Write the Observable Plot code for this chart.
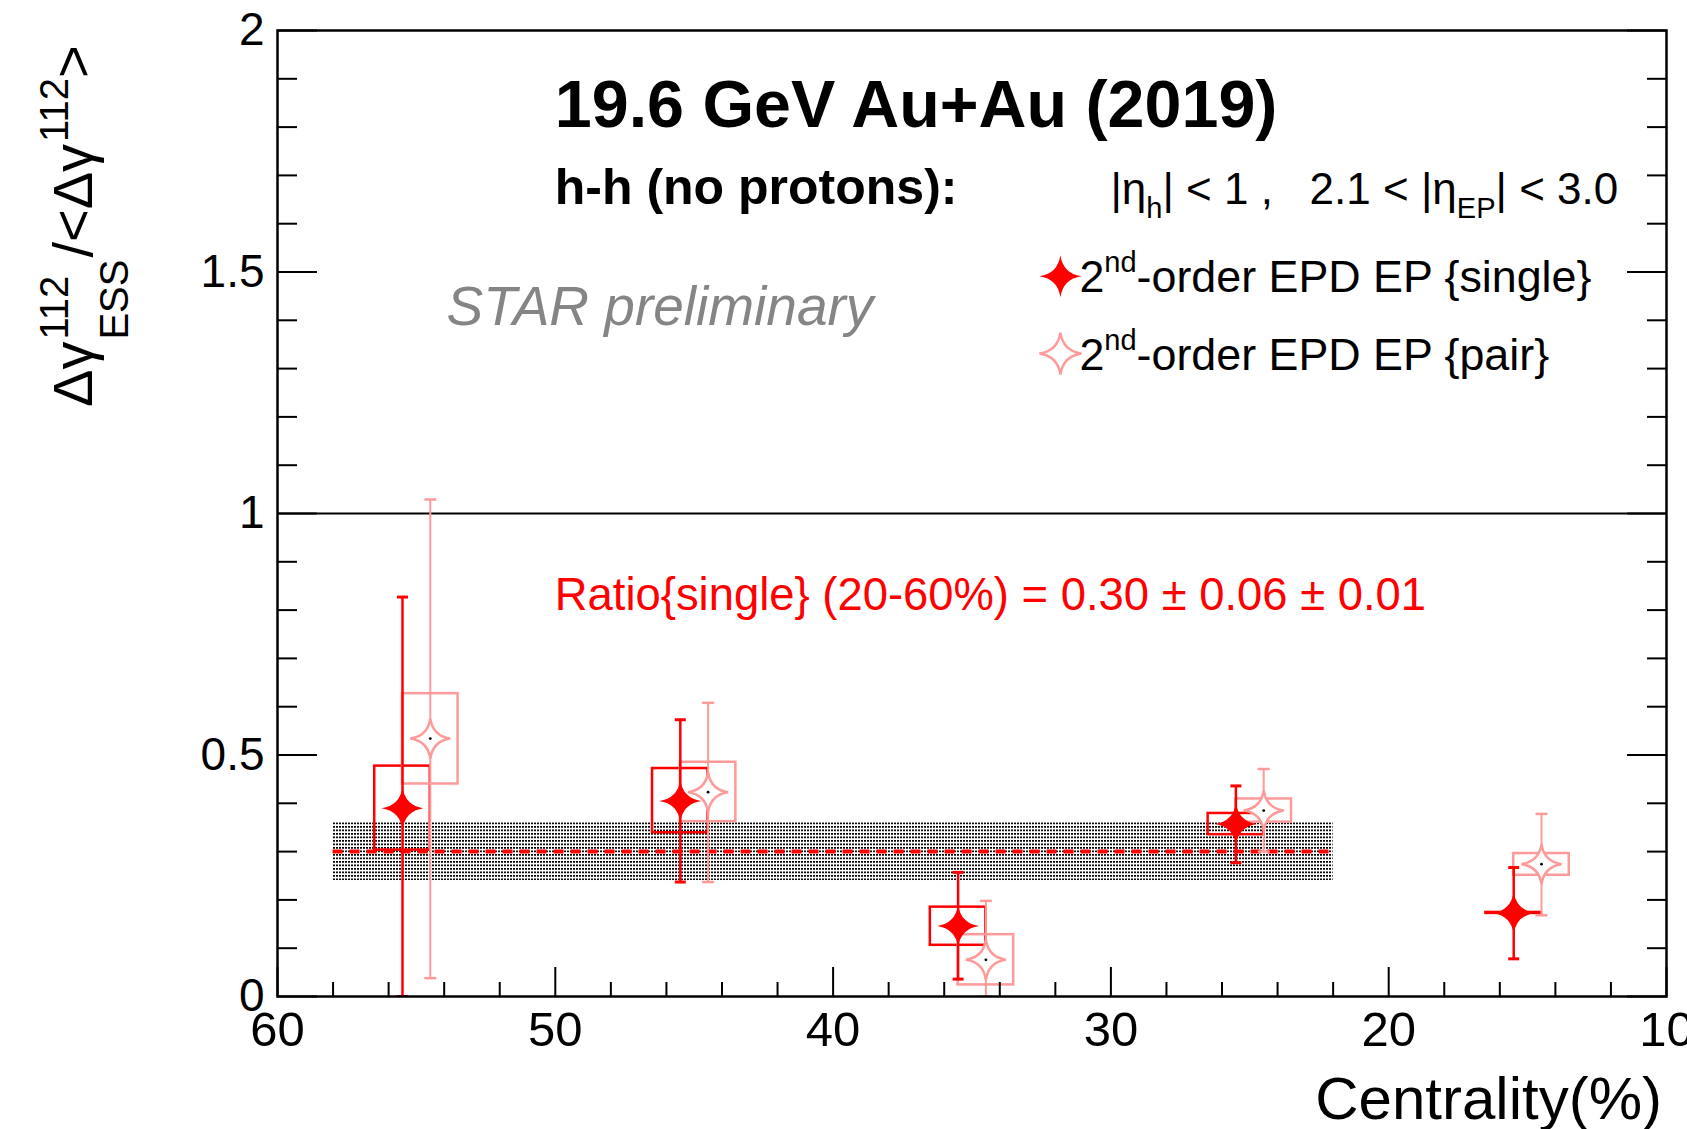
<!DOCTYPE html>
<html>
<head>
<meta charset="utf-8">
<script src="https://cdn.jsdelivr.net/npm/d3@7"></script>
<script src="https://cdn.jsdelivr.net/npm/@observablehq/plot@0.6"></script>
<style>
  html, body { margin: 0; padding: 0; background: #fff; }
  svg { display: block; }
</style>
</head>
<body>
<div id="chart"></div>
<script>
// ---- 2nd-order EPD EP {single}: ratio vs centrality ----
const singleCentrality = [55.5, 45.5, 35.5, 25.5, 15.5];
const singleValue      = [0.390, 0.405, 0.146, 0.357, 0.173];
const singleStatLow    = [0.000, 0.237, 0.036, 0.277, 0.078];
const singleStatHigh   = [0.827, 0.573, 0.257, 0.436, 0.267];
const singleSysLow     = [0.303, 0.339, 0.106, 0.335, 0.172];
const singleSysHigh    = [0.477, 0.472, 0.185, 0.379, 0.174];

// ---- 2nd-order EPD EP {pair} ----
const pairCentrality = [54.5, 44.5, 34.5, 24.5, 14.5];
const pairValue      = [0.534, 0.423, 0.076, 0.385, 0.274];
const pairStatLow    = [0.038, 0.237, 0.000, 0.300, 0.168];
const pairStatHigh   = [1.029, 0.608, 0.198, 0.471, 0.378];
const pairSysLow     = [0.440, 0.362, 0.024, 0.361, 0.251];
const pairSysHigh    = [0.627, 0.485, 0.128, 0.409, 0.296];

// ---- averaged ratio over 20-60% ----
const ratioValue = 0.30;
const ratioStat = 0.06;
const ratioSys = 0.01;
const ratioSpan = [58, 22];

// ---- axes ----
const xDomain = [60, 10];
const yDomain = [0, 2];
const xMajorTicks = [60, 50, 40, 30, 20, 10];
const xMinorTicks = [58, 56, 54, 52, 48, 46, 44, 42, 38, 36, 34, 32, 28, 26, 24, 22, 18, 16, 14, 12];
const yMajorTicks = [0, 0.5, 1, 1.5, 2];
const yMinorTicks = [0.1, 0.2, 0.3, 0.4, 0.6, 0.7, 0.8, 0.9, 1.1, 1.2, 1.3, 1.4, 1.6, 1.7, 1.8, 1.9];

const RED = "#ff0000";
const PINK = "#ff9a9a";
const SYS_HALF_WIDTH = 1; // systematic boxes span ±1 % in centrality
const FONT = "'Liberation Sans', Arial, Helvetica, sans-serif";

const single = singleCentrality.map((c, i) => ({
  c, v: singleValue[i], lo: singleStatLow[i], hi: singleStatHigh[i],
  sLo: singleSysLow[i], sHi: singleSysHigh[i]
}));
const pair = pairCentrality.map((c, i) => ({
  c, v: pairValue[i], lo: pairStatLow[i], hi: pairStatHigh[i],
  sLo: pairSysLow[i], sHi: pairSysHigh[i]
}));

// four-pointed star marker
const star4 = {
  draw(context, size) {
    const r = Math.sqrt(size / Math.PI);
    const k = 0.13 * r;
    context.moveTo(0, -r);
    context.quadraticCurveTo(k, -k, r, 0);
    context.quadraticCurveTo(k, k, 0, r);
    context.quadraticCurveTo(-k, k, -r, 0);
    context.quadraticCurveTo(-k, -k, 0, -r);
    context.closePath();
  }
};
// horizontal cap at the ends of error bars
const capMark = {
  draw(context, size) {
    const w = Math.sqrt(size / Math.PI);
    context.moveTo(-w, 0);
    context.lineTo(w, 0);
  }
};

const chart = Plot.plot({
  width: 1687,
  height: 1129,
  marginLeft: 277,
  marginRight: 21,
  marginTop: 30,
  marginBottom: 133,
  x: { domain: xDomain },
  y: { domain: yDomain },
  style: { fontFamily: FONT, background: "white", color: "black", overflow: "visible" },
  marks: [
    // averaged ratio band and value
    Plot.rect([{ a: ratioSpan[0], b: ratioSpan[1], lo: ratioValue - ratioStat, hi: ratioValue + ratioStat }],
      { x1: "a", x2: "b", y1: "lo", y2: "hi", fill: "url(#dotfill)" }),
    Plot.ruleY([ratioValue], { x1: ratioSpan[0], x2: ratioSpan[1], stroke: RED, strokeWidth: 4, strokeDasharray: "10,7" }),
    Plot.ruleY([1], { stroke: "black", strokeWidth: 2 }),

    // systematic boxes
    Plot.rect(single, { x1: d => d.c + SYS_HALF_WIDTH, x2: d => d.c - SYS_HALF_WIDTH, y1: "sLo", y2: "sHi",
      fill: "none", stroke: RED, strokeWidth: 2.5 }),
    Plot.rect(pair, { x1: d => d.c + SYS_HALF_WIDTH, x2: d => d.c - SYS_HALF_WIDTH, y1: "sLo", y2: "sHi",
      fill: "none", stroke: PINK, strokeWidth: 2.5 }),

    // statistical error bars
    Plot.ruleX(single, { x: "c", y1: "lo", y2: "hi", stroke: RED, strokeWidth: 2.5, clip: true }),
    Plot.dot(single, { x: "c", y: "hi", symbol: capMark, r: 5.5, stroke: RED, strokeWidth: 3, clip: true }),
    Plot.dot(single, { x: "c", y: "lo", symbol: capMark, r: 5.5, stroke: RED, strokeWidth: 3, clip: true }),
    Plot.ruleX(pair, { x: "c", y1: "lo", y2: "hi", stroke: PINK, strokeWidth: 2, clip: true }),
    Plot.dot(pair, { x: "c", y: "hi", symbol: capMark, r: 6, stroke: PINK, strokeWidth: 2.5, clip: true }),
    Plot.dot(pair, { x: "c", y: "lo", symbol: capMark, r: 6, stroke: PINK, strokeWidth: 2.5, clip: true }),

    // markers
    Plot.dot(single, { x: "c", y: "v", symbol: star4, r: 21, fill: RED, stroke: "none" }),
    Plot.dot(pair, { x: "c", y: "v", symbol: star4, r: 20, fill: "white", stroke: PINK, strokeWidth: 2.5 }),
    Plot.dot(pair, { x: "c", y: "v", r: 1.4, fill: "black", stroke: "none" }),

    Plot.frame({ stroke: "black", strokeWidth: 2.5 }),

    // inward ticks
    Plot.axisX(xMajorTicks, { anchor: "bottom", tickSize: -29, strokeWidth: 2, fill: "none", label: null }),
    Plot.axisX(xMinorTicks, { anchor: "bottom", tickSize: -14, strokeWidth: 2, fill: "none", label: null }),
    Plot.axisY(yMajorTicks, { anchor: "left", tickSize: -40, strokeWidth: 2, fill: "none", label: null }),
    Plot.axisY(yMinorTicks, { anchor: "left", tickSize: -20, strokeWidth: 2, fill: "none", label: null }),
    Plot.axisY(yMajorTicks, { anchor: "right", tickSize: -40, strokeWidth: 2, fill: "none", label: null }),
    Plot.axisY(yMinorTicks, { anchor: "right", tickSize: -20, strokeWidth: 2, fill: "none", label: null }),

    // tick labels
    Plot.axisX(xMajorTicks, { anchor: "bottom", tickSize: 0, tickPadding: 15, fontSize: 49, label: null,
      tickFormat: d => String(d) }),
    Plot.axisY(yMajorTicks, { anchor: "left", tickSize: 0, tickPadding: 13, fontSize: 46, label: null,
      tickFormat: d => String(d) })
  ]
});

document.getElementById("chart").appendChild(chart);

const svg = d3.select(chart);
const X = v => chart.scale("x").apply(v);
const Y = v => chart.scale("y").apply(v);

// dotted fill used by the averaged-ratio band
const pattern = svg.append("defs").append("pattern")
  .attr("id", "dotfill").attr("patternUnits", "userSpaceOnUse")
  .attr("width", 3).attr("height", 3.5);
pattern.append("rect").attr("width", 2).attr("height", 1.7).attr("fill", "#000");

const layer = svg.append("g").attr("font-family", FONT).attr("text-anchor", "start");

// text with sub/superscript segments
function richText(x, y, segments, base) {
  const t = layer.append("text")
    .attr("x", x).attr("y", y)
    .attr("text-anchor", "start")
    .attr("font-size", base.size)
    .attr("font-weight", base.weight || "normal")
    .attr("font-style", base.style || "normal")
    .attr("fill", base.fill || "black")
    .style("white-space", "pre");
  let shift = 0;
  for (const s of segments) {
    const sh = s.shift || 0;
    t.append("tspan")
      .attr("dy", sh - shift)
      .attr("font-size", s.size || base.size)
      .text(s.text);
    shift = sh;
  }
  return t;
}

richText(X(50), Y(1.8), [{ text: "19.6 GeV Au+Au (2019)" }], { size: 66.4, weight: "bold" });
richText(X(50), Y(1.64), [{ text: "h-h (no protons):" }], { size: 50, weight: "bold" });
richText(X(30), Y(1.64), [
  { text: "|η" },
  { text: "h", size: 29, shift: 14 },
  { text: "| < 1 ,   2.1 < |η" },
  { text: "EP", size: 29, shift: 14 },
  { text: "| < 3.0" }
], { size: 44 });

richText(X(53.9), Y(1.39), [{ text: "STAR preliminary" }], { size: 55, style: "italic", fill: "#858585" });

richText(X(50), Y(0.8), [{ text: "Ratio{single} (20-60%) = 0.30 ± 0.06 ± 0.01" }], { size: 45.4, fill: RED });

// legend
const legendX = 31.8;
const legendRows = [
  { y: 1.49, label: "-order EPD EP {single}", fill: RED, stroke: "none", width: 0 },
  { y: 1.33, label: "-order EPD EP {pair}", fill: "white", stroke: PINK, width: 2.5 }
];
for (const row of legendRows) {
  layer.append("path")
    .attr("transform", `translate(${X(legendX)},${Y(row.y)})`)
    .attr("d", d3.symbol(star4, Math.PI * 21 * 21)())
    .attr("fill", row.fill).attr("stroke", row.stroke).attr("stroke-width", row.width);
  richText(X(legendX) + 19, Y(row.y) + 16, [
    { text: "2" },
    { text: "nd", size: 29, shift: -20 },
    { text: row.label }
  ], { size: 44.8 });
}

// x-axis title
layer.append("text")
  .attr("x", X(10) - 4).attr("y", 1119)
  .attr("text-anchor", "end").attr("font-size", 60)
  .text("Centrality(%)");

// y-axis title: Δγ^112_ESS / <Δγ^112>, written bottom to top
const yTitle = layer.append("g").attr("transform", "translate(92,407) rotate(-90)");
function piece(x, dy, size, text) {
  const t = yTitle.append("text").attr("x", x).attr("y", dy)
    .attr("text-anchor", "start").attr("font-size", size).text(text);
  return t.node().getComputedTextLength();
}
let cx = 0;
cx += piece(cx, 0, 56, "Δγ");
const wSup1 = piece(cx + 2, -24, 40, "112");
const wSub1 = piece(cx + 2, 36, 40, "ESS");
cx += 2 + Math.max(wSup1, wSub1) + 2;
cx += piece(cx, 0, 56, "/<Δγ");
cx += 2 + piece(cx + 2, -24, 40, "112");
piece(cx, 0, 56, ">");
</script>
</body>
</html>
